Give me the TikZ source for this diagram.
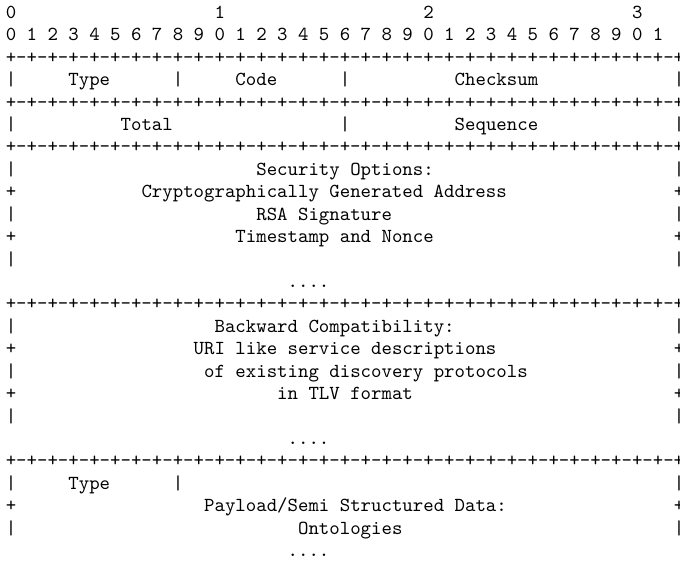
\documentclass[tikz,border=0pt]{standalone}
\begin{document}
\frenchspacing
\begin{tikzpicture}[x=5.22pt,y=-11.215pt,
  txt/.style={inner sep=0pt,outer sep=0pt,anchor=base west,text=black,
    font=\fontsize{9.94pt}{11pt}\selectfont\ttfamily}]
\useasboundingbox (-0.5556,-0.820) rectangle (64.58,24.235);
% header digits
\node[txt] (h0a) at (0,0) {0};
\node[txt] (h0b) at (20,0) {1};
\node[txt] (h0c) at (40,0) {2};
\node[txt] (h0d) at (60,0) {3};
\node[txt] (h1) at (0,1) {0 1 2 3 4 5 6 7 8 9 0 1 2 3 4 5 6 7 8 9 0 1 2 3 4 5 6 7 8 9 0 1};
% separators
\foreach \r in {2,4,6,13,20}
  \node[txt] (sep\r) at (0,\r) {+-+-+-+-+-+-+-+-+-+-+-+-+-+-+-+-+-+-+-+-+-+-+-+-+-+-+-+-+-+-+-+-+};
% field borders
\foreach \c in {0,16,32,64}
  \node[txt] (b3c\c) at (\c,3) {|};
\foreach \c in {0,32,64}
  \node[txt] (b5c\c) at (\c,5) {|};
\foreach \r in {7,9,11,14,16,18,21,23}
  \node[txt] (L\r) at (0,\r) {|};
\foreach \r in {7,9,11,14,16,18,21,23}
  \node[txt] (R\r) at (64,\r) {|};
\foreach \r in {8,10,15,17,22}
  \node[txt] (L\r) at (0,\r) {+};
\foreach \r in {8,10,15,17,22}
  \node[txt] (R\r) at (64,\r) {+};
\node[txt] (m21) at (16,21) {|};
% labels
\node[txt] (type1) at (6,3) {Type};
\node[txt] (code) at (22,3) {Code};
\node[txt] (checksum) at (43,3) {Checksum};
\node[txt] (total) at (11,5) {Total};
\node[txt] (sequence) at (43,5) {Sequence};
\node[txt] (sec) at (24,7) {Security Options:};
\node[txt] (cga) at (13,8) {Cryptographically Generated Address};
\node[txt] (rsa) at (24,9) {RSA Signature};
\node[txt] (tsn) at (22,10) {Timestamp and Nonce};
\node[txt] (dots1) at (27,12) {....};
\node[txt] (bc) at (20,14) {Backward Compatibility:};
\node[txt] (uri) at (18,15) {URI like service descriptions};
\node[txt] (edp) at (19,16) {of existing discovery protocols};
\node[txt] (tlv) at (26,17) {in TLV format};
\node[txt] (dots2) at (27,19) {....};
\node[txt] (type2) at (6,21) {Type};
\node[txt] (payload) at (19,22) {Payload/Semi Structured Data:};
\node[txt] (onto) at (28,23) {Ontologies};
\node[txt] (dots3) at (27,24) {....};
\end{tikzpicture}
\end{document}
